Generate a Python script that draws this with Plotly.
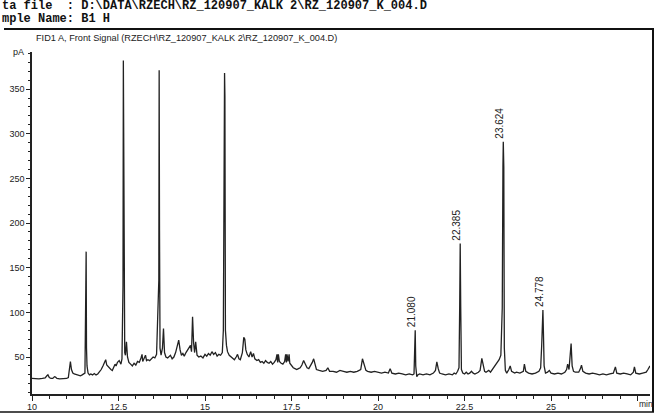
import plotly.graph_objects as go

# ---- data (retention time in min, signal in pA) ----
rt = [10.00, 10.10, 10.20, 10.30, 10.38, 10.43, 10.46, 10.50, 10.55, 10.60, 10.65, 10.68, 10.72, 10.80, 10.90,
      11.00, 11.05, 11.08, 11.11, 11.14, 11.18, 11.22, 11.30, 11.35, 11.40, 11.45, 11.50, 11.53,
      11.555, 11.565, 11.575, 11.59, 11.62, 11.66, 11.70, 11.75, 11.80, 11.85, 11.90, 11.95,
      12.00, 12.05, 12.10, 12.13, 12.16, 12.20, 12.24, 12.28, 12.32, 12.36, 12.40, 12.43, 12.47, 12.52, 12.57, 12.60,
      12.63, 12.64, 12.65, 12.66, 12.68, 12.70, 12.73, 12.76, 12.80, 12.85, 12.90, 12.95,
      13.00, 13.05, 13.10, 13.15, 13.18, 13.20, 13.24, 13.28, 13.31, 13.35, 13.40, 13.45, 13.50, 13.55, 13.60,
      13.665, 13.675, 13.685, 13.70, 13.73, 13.77, 13.80, 13.83, 13.87, 13.92, 13.96,
      14.00, 14.05, 14.10, 14.15, 14.20, 14.24, 14.28, 14.32, 14.36, 14.40, 14.45, 14.50, 14.55, 14.58, 14.61,
      14.64, 14.67, 14.70, 14.73, 14.77, 14.82, 14.88, 14.94,
      15.00, 15.05, 15.10, 15.15, 15.20, 15.25, 15.30, 15.35, 15.40, 15.45, 15.50, 15.53,
      15.55, 15.565, 15.575, 15.59, 15.62, 15.65, 15.70, 15.75, 15.80, 15.85, 15.90, 15.94, 15.98,
      16.02, 16.08, 16.12, 16.15, 16.18, 16.22, 16.27, 16.32, 16.36, 16.40, 16.44, 16.50, 16.55, 16.60, 16.65,
      16.70, 16.75, 16.80, 16.85, 16.90, 16.95,
      17.00, 17.05, 17.08, 17.10, 17.12, 17.15, 17.20, 17.25, 17.30, 17.33, 17.35, 17.37, 17.40, 17.43, 17.45,
      17.50, 17.55, 17.60, 17.65, 17.70, 17.75, 17.80, 17.85, 17.90, 17.95,
      18.00, 18.05, 18.10, 18.14, 18.18, 18.22, 18.30, 18.40, 18.50, 18.55, 18.60, 18.70, 18.80, 18.90,
      19.00, 19.10, 19.20, 19.30, 19.40, 19.50, 19.55, 19.60, 19.65, 19.70, 19.80, 19.90,
      20.00, 20.10, 20.20, 20.30, 20.35, 20.40, 20.50, 20.60, 20.70, 20.80, 20.90,
      21.00, 21.04, 21.06, 21.075, 21.09, 21.12, 21.15, 21.20, 21.30, 21.40, 21.50, 21.60, 21.66, 21.70, 21.74,
      21.78, 21.85, 21.95,
      22.05, 22.15, 22.20, 22.25, 22.30, 22.34, 22.36, 22.375, 22.39, 22.41, 22.45, 22.50, 22.55, 22.60, 22.65,
      22.70, 22.75, 22.80, 22.90, 22.95,
      23.00, 23.04, 23.08, 23.12, 23.20, 23.25, 23.30, 23.35, 23.40, 23.45, 23.50, 23.55, 23.59, 23.61, 23.62,
      23.635, 23.65, 23.68, 23.72, 23.78, 23.82, 23.86, 23.90, 23.95,
      24.00, 24.10, 24.20, 24.23, 24.27, 24.35, 24.45, 24.55, 24.65, 24.70, 24.73, 24.75, 24.765, 24.78, 24.80,
      24.84, 24.90, 24.95,
      25.00, 25.10, 25.20, 25.30, 25.40, 25.45, 25.48, 25.52, 25.55, 25.58, 25.61, 25.65, 25.70, 25.80, 25.85,
      25.88, 25.92,
      26.00, 26.10, 26.20, 26.30, 26.40, 26.50, 26.60, 26.70, 26.80, 26.86, 26.90,
      27.00, 27.10, 27.20, 27.30, 27.38, 27.41, 27.45, 27.55, 27.65, 27.75, 27.80, 27.86]

pa = [26, 25.5, 25.5, 26, 26.5, 29, 30, 27, 26, 26, 28, 27.5, 26, 25.5, 25.5,
      26, 27, 35, 45, 36, 32, 31, 30, 30, 29, 30, 31, 32,
      127, 168, 60, 40, 32, 30, 31, 30, 31.5, 30, 31, 33,
      36, 40, 44, 47, 41, 39, 37, 36, 35, 38, 42, 40, 44, 46, 42, 48,
      130, 382, 215, 100, 55, 52, 67, 50, 44, 42, 40, 43,
      41, 45, 44, 49, 53, 45, 48, 52, 46, 47, 46, 48, 50, 49, 53,
      136, 371, 192, 60, 52, 60, 82, 55, 50, 49, 50,
      52, 48, 50, 55, 62, 69, 58, 52, 54, 51, 55, 58, 62, 63, 56,
      95, 66, 55, 67, 52, 50, 51, 49,
      53, 51, 54, 52, 56, 53, 55, 51, 53, 52, 55, 80,
      342, 368, 342, 80, 63, 56, 52, 50, 48, 47, 50, 53, 48,
      47, 55, 72, 70, 58, 53, 50, 56, 50, 54, 48, 46, 47, 44, 45,
      43, 46, 44, 43, 45, 42,
      44, 47, 53, 44, 53, 45, 43, 42, 45, 53, 44, 53, 45, 53, 43,
      40, 38, 37, 36, 37, 38, 41, 46, 42, 38,
      37, 40, 44, 48, 40, 36, 35, 34, 35, 38, 34, 34, 33, 35,
      34, 33, 34, 33, 34, 36, 48, 40, 35, 34, 33, 34,
      33, 32, 33, 32, 37, 32, 31, 32, 31, 30, 31,
      30, 31, 55, 80, 40, 28, 30, 31, 30, 31, 30, 32, 35, 44.7, 37,
      32, 31, 30,
      31, 30, 32, 31, 34, 38, 106, 177, 106, 36, 32, 31, 33, 31, 32,
      34, 32, 31, 33, 35,
      48.5, 40, 34, 33, 35, 33, 36, 38, 42, 44, 47, 52, 105, 263, 291,
      263, 60, 35, 32, 36, 40, 34, 33, 32,
      33, 32, 34, 42, 34, 32, 31, 32, 34, 38, 63, 78, 102.6, 78, 40,
      32, 33, 35,
      32, 31, 32, 31, 33, 36, 42, 36, 56, 65, 40, 34, 33, 33, 37,
      41, 34,
      32, 31, 32, 31, 30, 31, 30, 31, 32, 39, 32,
      31, 32, 31, 30, 33, 39, 32, 31, 32, 33, 36, 40]

peak_rt = [21.080, 22.385, 23.624, 24.778]
peak_height = [80, 177, 291, 102.6]
peak_label = ["21.080", "22.385", "23.624", "24.778"]

x_ticks = [10, 12.5, 15, 17.5, 20, 22.5, 25, 27.5]
x_ticktext = ["10", "12.5", "15", "17.5", "20", "22.5", "25", ""]
y_ticks = [50, 100, 150, 200, 250, 300, 350]

# ---- layout geometry helpers (pixel -> paper) ----
W, H = 655, 417
ML, MR, MT, MB = 32, 5, 52, 23
PW, PH = W - ML - MR, H - MT - MB


def px(x):
    return (x - ML) / PW


def py(y):
    return (H - MB - y) / PH


LAB = "Liberation Sans Narrow, Arial Narrow, Liberation Sans, Arial, sans-serif"
MONO = "Liberation Mono, Courier New, monospace"
INK = "#222222"

fig = go.Figure()
fig.add_trace(go.Scatter(x=rt, y=pa, mode="lines",
                         line=dict(color=INK, width=1.3), hoverinfo="skip",
                         showlegend=False))

annotations = []
for t, h, lab in zip(peak_rt, peak_height, peak_label):
    annotations.append(dict(x=t, y=h, xref="x", yref="y", text=lab, textangle=-90,
                            showarrow=False, xanchor="center", yanchor="bottom",
                            xshift=-4, yshift=2, borderpad=0,
                            font=dict(family=LAB, size=10, color=INK)))

annotations += [
    dict(x=px(1), y=py(6), xref="paper", yref="paper", xanchor="left", yanchor="middle",
         text=r"ta file  : D:\DATA\RZECH\RZ_120907_KALK 2\RZ_120907_K_004.D",
         showarrow=False, borderpad=0,
         font=dict(family=MONO, size=12, color="#111111", weight="bold")),
    dict(x=px(1), y=py(19), xref="paper", yref="paper", xanchor="left", yanchor="middle",
         text="mple Name: B1 H", showarrow=False, borderpad=0,
         font=dict(family=MONO, size=12, color="#111111", weight="bold")),
    dict(x=px(35), y=py(38), xref="paper", yref="paper", xanchor="left", yanchor="middle",
         text=r"FID1 A, Front Signal (RZECH\RZ_120907_KALK 2\RZ_120907_K_004.D)",
         showarrow=False, borderpad=0,
         font=dict(family=LAB, size=9.2, color=INK)),
    dict(x=px(18), y=py(52), xref="paper", yref="paper", xanchor="center", yanchor="middle",
         text="pA", showarrow=False, borderpad=0,
         font=dict(family=LAB, size=9, color=INK)),
    dict(x=px(646), y=py(404), xref="paper", yref="paper", xanchor="center", yanchor="middle",
         text="min", showarrow=False, borderpad=0,
         font=dict(family=LAB, size=8.5, color=INK)),
]

shapes = [
    dict(type="line", xref="paper", yref="paper", x0=px(4), x1=px(654), y0=py(29), y1=py(29),
         line=dict(color="#111111", width=2)),
    dict(type="line", xref="paper", yref="paper", x0=px(653), x1=px(653), y0=py(29), y1=py(412),
         line=dict(color="#111111", width=2)),
    dict(type="line", xref="paper", yref="paper", x0=px(0), x1=px(654), y0=py(412), y1=py(412),
         line=dict(color="#111111", width=1.5)),
]

fig.update_layout(
    width=W, height=H,
    margin=dict(l=ML, r=MR, t=MT, b=MB, autoexpand=False),
    paper_bgcolor="white", plot_bgcolor="white",
    showlegend=False,
    annotations=annotations,
    shapes=shapes,
    xaxis=dict(range=[10, 27.86], tickmode="array", tickvals=x_ticks, ticktext=x_ticktext,
               ticks="outside", ticklen=5, tickwidth=1, tickcolor=INK,
               showline=True, linecolor=INK, linewidth=1.5,
               showgrid=False, zeroline=False, automargin=False,
               ticklabelstandoff=-2,
               tickfont=dict(family=LAB, size=9, color=INK),
               minor=dict(ticks="outside", dtick=0.5, tick0=10, ticklen=3, tickcolor=INK, showgrid=False)),
    yaxis=dict(range=[8.6, 391.5], tickmode="array", tickvals=y_ticks,
               ticks="outside", ticklen=4, tickwidth=1, tickcolor=INK,
               showline=True, linecolor=INK, linewidth=1.5,
               showgrid=False, zeroline=False, automargin=False,
               tickfont=dict(family=LAB, size=9, color=INK),
               minor=dict(ticks="outside", dtick=10, tick0=0, ticklen=2, tickcolor=INK, showgrid=False)),
)

fig.write_html("out.html", config={"displayModeBar": False},
               post_script="document.body.style.margin='0px';document.body.style.overflow='hidden';")
